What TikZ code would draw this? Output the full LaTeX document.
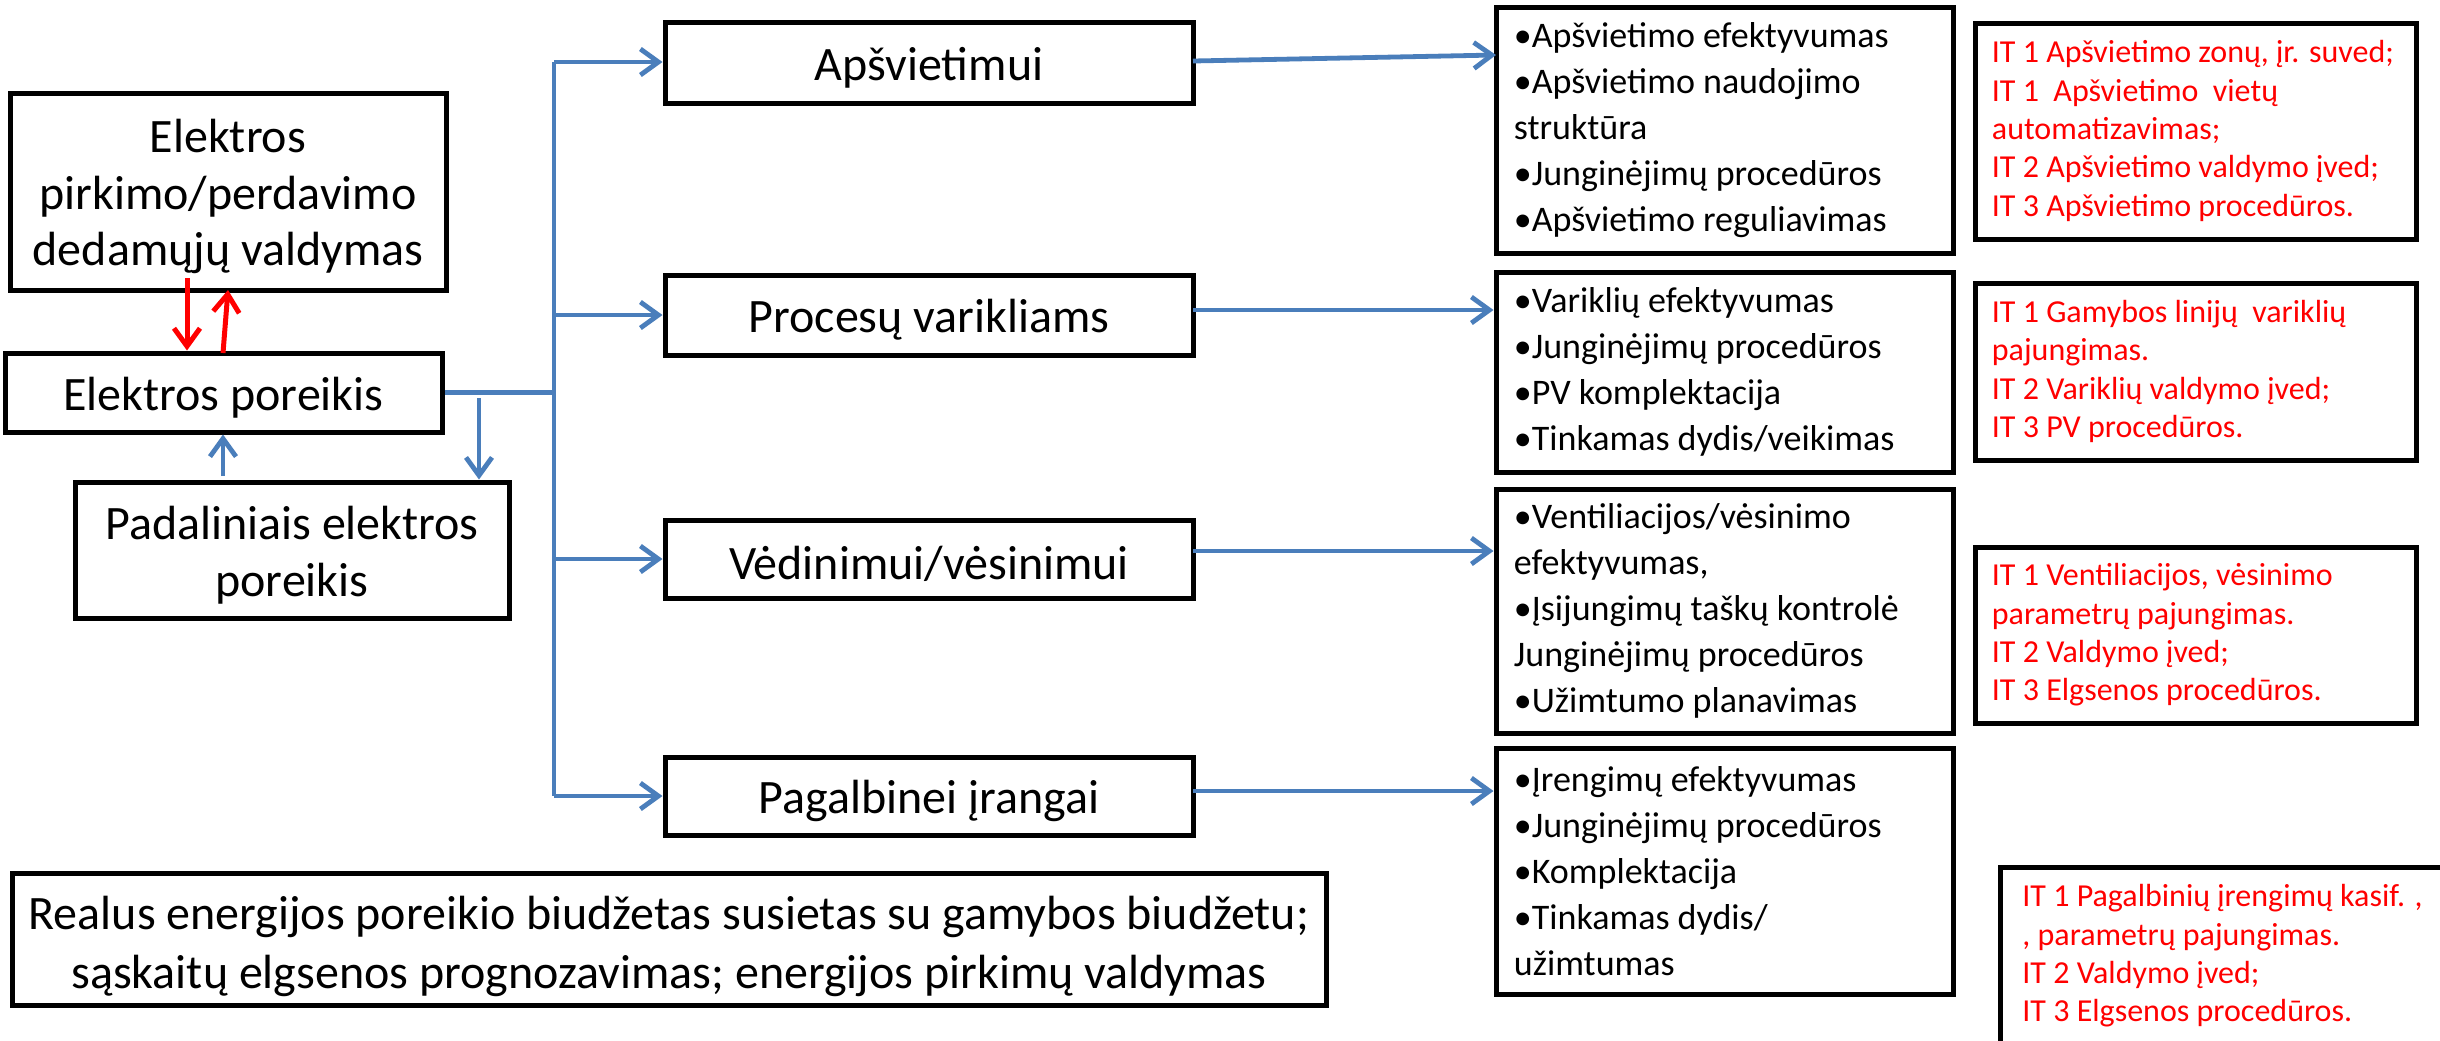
\documentclass[tikz,border=0pt]{standalone}
\usepackage{fontspec}
\setmainfont{Carlito}
\usetikzlibrary{arrows.meta,fit}
\definecolor{pblue}{HTML}{4A7EBB}
\newcommand\fmain{\fontsize{24}{28.2}\selectfont}
\newcommand\fbig{\fontsize{24}{29.5}\selectfont}
\newcommand\fbul{\fontsize{18}{23}\selectfont}
\newcommand\fred{\fontsize{16}{19.2}\selectfont}
\tikzset{
  box/.style={draw=black, line width=2.5pt, fill=white, inner sep=0pt},
  bl/.style={draw=pblue, line width=2.4pt},
  arr/.style={bl, -{Straight Barb[length=9pt,width=13pt]}},
  rarr/.style={draw=red, line width=2.5pt, -{Straight Barb[length=9pt,width=13pt]}},
  mtxt/.style={font=\fmain, align=center, inner sep=0pt, yshift=-2.5pt},
  btxt/.style={font=\fbul, align=left, inner sep=0pt},
  rtxt/.style={font=\fred, align=left, inner sep=0pt, text=red},
}
\begin{document}
\begin{tikzpicture}[x=0.5pt,y=-0.5pt]
\clip (0,0) rectangle (2440,1040);
\fill[white] (0,0) rectangle (2440,1040);
% left column
\node[box, fit={(10,93)(446,290)}] (pk) {};
\node[mtxt] (pkt) at (pk.center) {Elektros\\pirkimo/perdavimo\\dedamųjų valdymas};
\node[box, fit={(5,353)(442,432)}] (ep) {};
\node[mtxt] (ept) at (ep.center) {Elektros poreikis};
\node[box, fit={(75,482)(509,618)}] (pd) {};
\node[mtxt] (pdt) at (pd.center) {Padaliniais elektros\\poreikis};
% middle column
\node[box, fit={(665,22)(1193,103)}] (apsv) {};
\node[mtxt] (apsvt) at (apsv.center) {Apšvietimui};
\node[box, fit={(665,275)(1193,355)}] (proc) {};
\node[mtxt] (proct) at (proc.center) {Procesų varikliams};
\node[box, fit={(665,520)(1193,598)}] (ved) {};
\node[mtxt] (vedt) at (ved.center) {Vėdinimui/vėsinimui};
\node[box, fit={(665,757)(1193,835)}] (pag) {};
\node[mtxt] (pagt) at (pag.center) {Pagalbinei įrangai};
\node[box, fit={(12,873)(1326,1005)}] (bud) {};
\node[mtxt, font=\fbig, yshift=-1pt] (budt) at (bud.center) {Realus energijos poreikio biudžetas susietas su gamybos biudžetu;\\sąskaitų elgsenos prognozavimas; energijos pirkimų valdymas};
% bullet boxes
\node[box, fit={(1496,7)(1953,253)}] (b1) {};
\node[box, fit={(1496,272)(1953,472)}] (b2) {};
\node[box, fit={(1496,489)(1953,733)}] (b3) {};
\node[box, fit={(1496,748)(1953,994)}] (b4) {};
\node[btxt, anchor=west] (b1t) at ([xshift=10pt]b1.west) {•Apšvietimo efektyvumas\\•Apšvietimo naudojimo\\struktūra\\•Junginėjimų procedūros\\•Apšvietimo reguliavimas};
\node[btxt, anchor=west] (b2t) at ([xshift=10pt]b2.west) {•Variklių efektyvumas\\•Junginėjimų procedūros\\•PV komplektacija\\•Tinkamas dydis/veikimas};
\node[btxt, anchor=west] (b3t) at ([xshift=10pt]b3.west) {•Ventiliacijos/vėsinimo\\efektyvumas,\\•Įsijungimų taškų kontrolė\\Junginėjimų procedūros\\•Užimtumo planavimas};
\node[btxt, anchor=west] (b4t) at ([xshift=10pt]b4.west) {•Įrengimų efektyvumas\\•Junginėjimų procedūros\\•Komplektacija\\•Tinkamas dydis/\\užimtumas};
% red boxes
\node[box, fit={(1975,23)(2416,239)}] (r1) {};
\node[box, fit={(1975,283)(2416,460)}] (r2) {};
\node[box, fit={(1975,547)(2416,723)}] (r3) {};
\node[box, fit={(2000,867)(2470,1070)}] (r4) {};
\node[rtxt, anchor=west] (r1t) at ([xshift=9.5pt]r1.west) {IT 1 Apšvietimo zonų, įr. suved;\\IT 1\ \ Apšvietimo\ \ vietų\\automatizavimas;\\IT 2 Apšvietimo valdymo įved;\\IT 3 Apšvietimo procedūros.};
\node[rtxt, anchor=west] (r2t) at ([xshift=9.5pt]r2.west) {IT 1 Gamybos linijų\ \ variklių\\pajungimas.\\IT 2 Variklių valdymo įved;\\IT 3 PV procedūros.};
\node[rtxt, anchor=west] (r3t) at ([xshift=9.5pt]r3.west) {IT 1 Ventiliacijos, vėsinimo\\parametrų pajungimas.\\IT 2 Valdymo įved;\\IT 3 Elgsenos procedūros.};
\node[rtxt, anchor=north west] (r4t) at (2022,884) {IT 1 Pagalbinių įrengimų kasif. ,\\, parametrų pajungimas.\\IT 2 Valdymo įved;\\IT 3 Elgsenos procedūros.};
% bus
\coordinate (bt) at (554,62);
\coordinate (bb) at (554,796);
\draw[bl] (bt) -- (bb);
\draw[bl] (ep.east) -- (ep.east -| bt);
\draw[arr] (bt) -- (bt -| apsv.west);
\draw[arr] (proc.west -| bt) -- (proc.west);
\draw[arr] (ved.west -| bt) -- (ved.west);
\draw[arr] (bb) -- (bb -| pag.west);
% middle to bullet boxes
\coordinate (a1s) at (1193,61);
\coordinate (a1e) at (1496,55);
\draw[arr] (a1s) -- (a1e);
\coordinate (a2s) at (1193,310);
\draw[arr] (a2s) -- (a2s -| b2.west);
\coordinate (a3s) at (1193,551);
\draw[arr] (a3s) -- (a3s -| b3.west);
\coordinate (a4s) at (1193,791);
\draw[arr] (a4s) -- (a4s -| b4.west);
% left arrows
\coordinate (rd) at (187,278);
\draw[rarr] (rd) -- (rd |- ep.north);
\coordinate (ru) at (223,353);
\coordinate (rue) at (228,290);
\draw[rarr] (ru) -- (rue);
\coordinate (bu) at (223,476);
\draw[arr] (bu) -- (bu |- ep.south);
\coordinate (bd) at (479,398);
\draw[arr] (bd) -- (bd |- pd.north);
\end{tikzpicture}
\end{document}
